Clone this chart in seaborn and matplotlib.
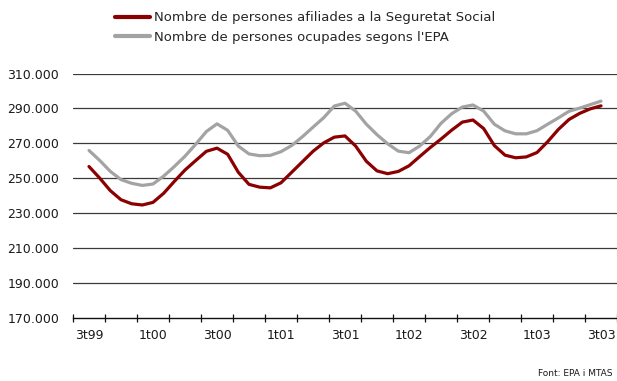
import numpy as np
import pandas as pd
import matplotlib
matplotlib.use("Agg")
import matplotlib.pyplot as plt
import seaborn as sns
from matplotlib.lines import Line2D

# Monthly series (thousands of people), July 1999 .. July 2003
afiliats = [256.8, 250.2, 243.0, 237.8, 235.5, 234.8, 236.3, 241.5, 248.3, 254.8,
            260.2, 265.5, 267.3, 263.8, 253.5, 246.6, 245.0, 244.6, 247.5, 253.5,
            259.5, 265.5, 270.3, 273.6, 274.3, 268.5, 259.8, 254.3, 252.7, 254.0,
            257.2, 262.5, 267.7, 272.5, 277.6, 282.2, 283.4, 278.5, 268.8, 263.3,
            261.8, 262.3, 264.8, 271.0, 278.0, 283.7, 287.2, 289.8, 291.5]
ocupats_epa = [266.0, 260.3, 254.0, 249.3, 247.2, 246.0, 246.8, 251.3, 256.8, 262.7,
               269.5, 276.8, 281.2, 277.5, 268.5, 264.0, 263.0, 263.2, 265.3, 268.8,
               273.8, 279.3, 284.7, 291.4, 293.0, 288.5, 281.0, 275.0, 269.8, 265.6,
               264.7, 268.5, 274.0, 281.5, 287.0, 290.8, 292.0, 288.5, 281.0, 277.2,
               275.5, 275.5, 277.3, 281.0, 284.6, 288.4, 290.2, 292.2, 294.2]
trimestres = ["3t99", "1t00", "3t00", "1t01", "3t01", "1t02", "3t02", "1t03", "3t03"]
y_ticks = [170, 190, 210, 230, 250, 270, 290, 310]

serie_afiliats = "Nombre de persones afiliades a la Seguretat Social"
serie_epa = "Nombre de persones ocupades segons l'EPA"
color_afiliats = "#8B0000"
color_epa = "#A3A3A3"

mes = np.arange(len(afiliats))
df = pd.DataFrame({
    "mes": np.concatenate([mes, mes]),
    "valor": np.concatenate([afiliats, ocupats_epa]),
    "serie": [serie_afiliats] * len(mes) + [serie_epa] * len(mes),
})

sns.set_style("white")
plt.rcParams["font.family"] = ["DejaVu Sans"]

fig = plt.figure(figsize=(6.17, 3.81), dpi=100)
ax = fig.add_axes([73 / 617, (381 - 318.3) / 381, 1 - 73 / 617, (318.3 - 73.5) / 381])

sns.lineplot(data=df, x="mes", y="valor", hue="serie",
             palette={serie_afiliats: color_afiliats, serie_epa: color_epa},
             hue_order=[serie_afiliats, serie_epa],
             linewidth=2.3, ax=ax, legend=False, zorder=3)

ax.set_xlim(-1.5, 49.0)
ax.set_ylim(170, 310)

# horizontal gridlines
for v in y_ticks[1:]:
    ax.axhline(v, color="#3a3a3a", linewidth=0.9, zorder=1)

for s in ["top", "right", "left"]:
    ax.spines[s].set_visible(False)
ax.spines["bottom"].set_color("#111111")
ax.spines["bottom"].set_linewidth(1.0)

ax.set_yticks(y_ticks)
ax.set_yticklabels([f"{v}.000" for v in y_ticks])
ax.tick_params(axis="y", left=False, length=0, pad=10, labelsize=9, labelcolor="#1a1a1a")

# quarter boundaries as ticks, labels centred on every second quarter
ax.set_xticks(np.arange(-1.5, 50, 3))
ax.set_xticklabels([])
ax.tick_params(axis="x", which="major", bottom=True, direction="inout", length=6,
               width=0.9, color="#111111")
ax.set_xticks(np.arange(0, 49, 6), minor=True)
ax.set_xticklabels(trimestres, minor=True)
ax.tick_params(axis="x", which="minor", bottom=True, length=0, pad=8, labelsize=9,
               labelcolor="#1a1a1a")
ax.set_xlabel("")
ax.set_ylabel("")

# legend
handles = [Line2D([0], [0], color=color_afiliats, linewidth=3.0),
           Line2D([0], [0], color=color_epa, linewidth=3.0)]
fig.legend(handles, [serie_afiliats, serie_epa], loc="upper left",
           bbox_to_anchor=(106 / 617, 1 - 2 / 381), frameon=False,
           fontsize=9.5, handlelength=2.6, handletextpad=0.35, labelspacing=0.5,
           borderpad=0.2)

fig.text(613 / 617, 1 - 376 / 381, "Font: EPA i MTAS", ha="right", va="baseline",
         fontsize=6.5, color="#1a1a1a")

fig.savefig("out.png", dpi=100)
